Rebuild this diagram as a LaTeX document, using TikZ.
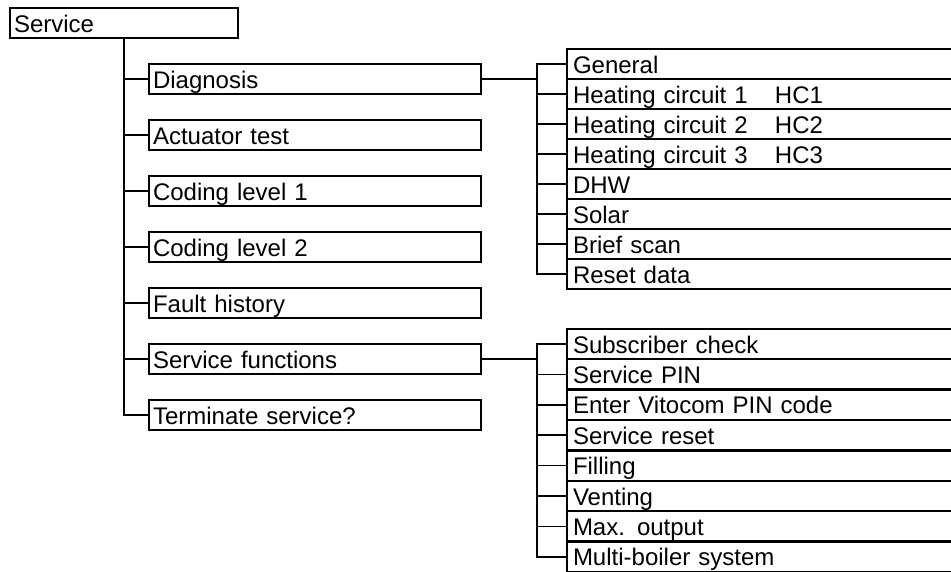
\documentclass[tikz,border=0pt]{standalone}
\usepackage{fontspec}
\setmainfont{Liberation Sans}
\begin{document}
\begin{tikzpicture}[x=1pt,y=-1pt,
  box/.style={draw, line width=2pt, rectangle, anchor=north west, inner xsep=4pt, inner ysep=0pt,
    text height=24pt, text depth=6pt, align=left, font=\fontsize{24}{29}\selectfont},
  subbox/.style={box, inner xsep=6pt, text width=390pt},
  lvl/.style={box, text width=324pt},
  conn/.style={line width=1.6pt}]
\useasboundingbox (0,0) rectangle (951,571);
\clip (0,0) rectangle (951,571);
% root
\node[box, text width=220pt] (svc) at (9,7) {Service};
% level 1
\node[lvl] (diag) at (148,63) {Diagnosis};
\node[lvl] (act) at (148,119) {Actuator test};
\node[lvl] (cod1) at (148,175) {Coding level 1};
\node[lvl] (cod2) at (148,231) {Coding level 2};
\node[lvl] (fault) at (148,287) {Fault history};
\node[lvl] (sfun) at (148,343) {Service functions};
\node[lvl] (term) at (148,399) {Terminate service?};
% diagnosis submenu
\node[subbox] (gen) at (566,48) {General};
\node[subbox] (hc1) at (566,78) {\makebox[202pt][l]{Heating circuit 1}HC1};
\node[subbox] (hc2) at (566,108) {\makebox[202pt][l]{Heating circuit 2}HC2};
\node[subbox] (hc3) at (566,138) {\makebox[202pt][l]{Heating circuit 3}HC3};
\node[subbox] (dhw) at (566,168) {DHW};
\node[subbox] (sol) at (566,198) {Solar};
\node[subbox] (brief) at (566,228) {Brief scan};
\node[subbox] (reset) at (566,258) {Reset data};
% service functions submenu
\node[subbox] (subs) at (566,328) {Subscriber check};
\node[subbox] (spin) at (566,358.4) {Service PIN};
\node[subbox] (vito) at (566,388.8) {Enter Vitocom PIN code};
\node[subbox] (sres) at (566,419.2) {Service reset};
\node[subbox] (fill) at (566,449.6) {Filling};
\node[subbox] (vent) at (566,480) {Venting};
\node[subbox] (maxo) at (566,510.4) {Max. output};
\node[subbox] (multi) at (566,540.8) {Multi-boiler system};
% trunk
\coordinate (t) at (124,0);
\draw[conn] (svc.south -| t) -- (term.west -| t) -- (term.west);
\foreach \n in {diag,act,cod1,cod2,fault,sfun} \draw[conn] (\n.west -| t) -- (\n.west);
% diagnosis branches
\coordinate (s) at (537,0);
\draw[conn] (diag.east) -- (diag.east -| s);
\draw[conn] (gen.west) -- (gen.west -| s) -- (reset.west -| s) -- (reset.west);
\foreach \n in {hc1,hc2,hc3,dhw,sol,brief} \draw[conn] (\n.west -| s) -- (\n.west);
% service function branches
\draw[conn] (sfun.east) -- (sfun.east -| s);
\draw[conn] (subs.west) -- (subs.west -| s) -- (multi.west -| s) -- (multi.west);
\foreach \n in {spin,vito,sres,fill,vent,maxo} \draw[conn] (\n.west -| s) -- (\n.west);
\end{tikzpicture}
\end{document}
